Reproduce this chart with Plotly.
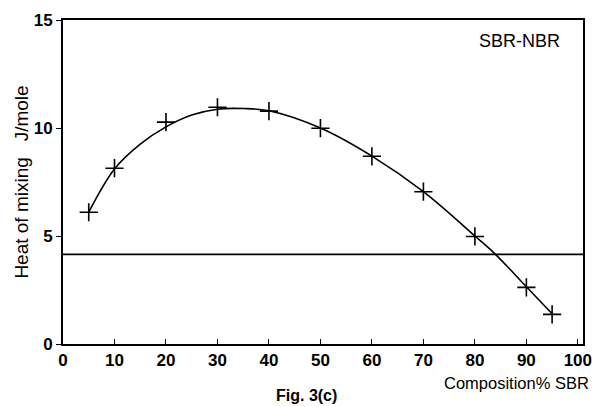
import plotly.graph_objects as go

# measured points
comp_sbr = [5, 10, 20, 30, 40, 50, 60, 70, 80, 90, 95]
heat_mix = [6.1, 8.14, 10.27, 10.96, 10.78, 9.99, 8.69, 7.05, 4.98, 2.62, 1.37]

# smooth curve
curve_x = [5, 10, 15, 20, 25, 30, 35, 40, 50, 60, 70, 80, 84, 90, 95]
curve_y = [6.1, 8.1, 9.25, 10.05, 10.6, 10.87, 10.9, 10.8, 10.0, 8.7, 7.05, 5.0, 4.15, 2.65, 1.4]

hline_value = 4.15

x_ticks = [0, 10, 20, 30, 40, 50, 60, 70, 80, 90, 100]
y_ticks = [0, 5, 10, 15]

fig = go.Figure()
fig.add_trace(go.Scatter(x=curve_x, y=curve_y, mode="lines",
                         line=dict(color="black", width=1.6, shape="spline", smoothing=1.0),
                         hoverinfo="skip", showlegend=False))
fig.add_trace(go.Scatter(x=comp_sbr, y=heat_mix, mode="markers",
                         marker=dict(symbol="cross-thin-open", size=13, color="black",
                                     line=dict(color="black", width=1.6)),
                         showlegend=False))
fig.add_hline(y=hline_value, line=dict(color="black", width=1.6))

tickfont = dict(family="Liberation Sans", size=17, color="black", weight="bold")

fig.update_xaxes(range=[0, 101], tickvals=x_ticks, ticks="inside", ticklen=5,
                 tickcolor="black", showline=True, linecolor="black", linewidth=2,
                 mirror=True, showgrid=False, zeroline=False, tickfont=tickfont,
                 automargin=False)
fig.update_yaxes(range=[0, 15], tickvals=y_ticks, ticks="outside", ticklen=5,
                 tickcolor="black", showline=True, linecolor="black", linewidth=2,
                 mirror=True, showgrid=False, zeroline=False, tickfont=tickfont,
                 automargin=False,
                 title=dict(text="Heat of mixing   J/mole",
                            font=dict(family="Liberation Sans", size=19, color="black"),
                            standoff=0))

fig.add_annotation(text="SBR-NBR", xref="paper", yref="paper", x=0.96, y=0.935,
                   xanchor="right", yanchor="middle", showarrow=False,
                   font=dict(family="Liberation Sans", size=18, color="black"))
fig.add_annotation(text="Composition% SBR", xref="paper", yref="paper", x=1.015, y=-0.12,
                   xanchor="right", yanchor="middle", showarrow=False,
                   font=dict(family="Liberation Sans", size=16.5, color="black"))
fig.add_annotation(text="Fig. 3(c)", xref="paper", yref="paper", x=0.468, y=-0.16,
                   xanchor="center", yanchor="middle", showarrow=False,
                   font=dict(family="Liberation Sans", size=16, color="black", weight="bold"))

fig.update_layout(width=600, height=407, margin=dict(l=63, r=17, t=20, b=63),
                  plot_bgcolor="white", paper_bgcolor="white")

fig.write_html("out.html")
